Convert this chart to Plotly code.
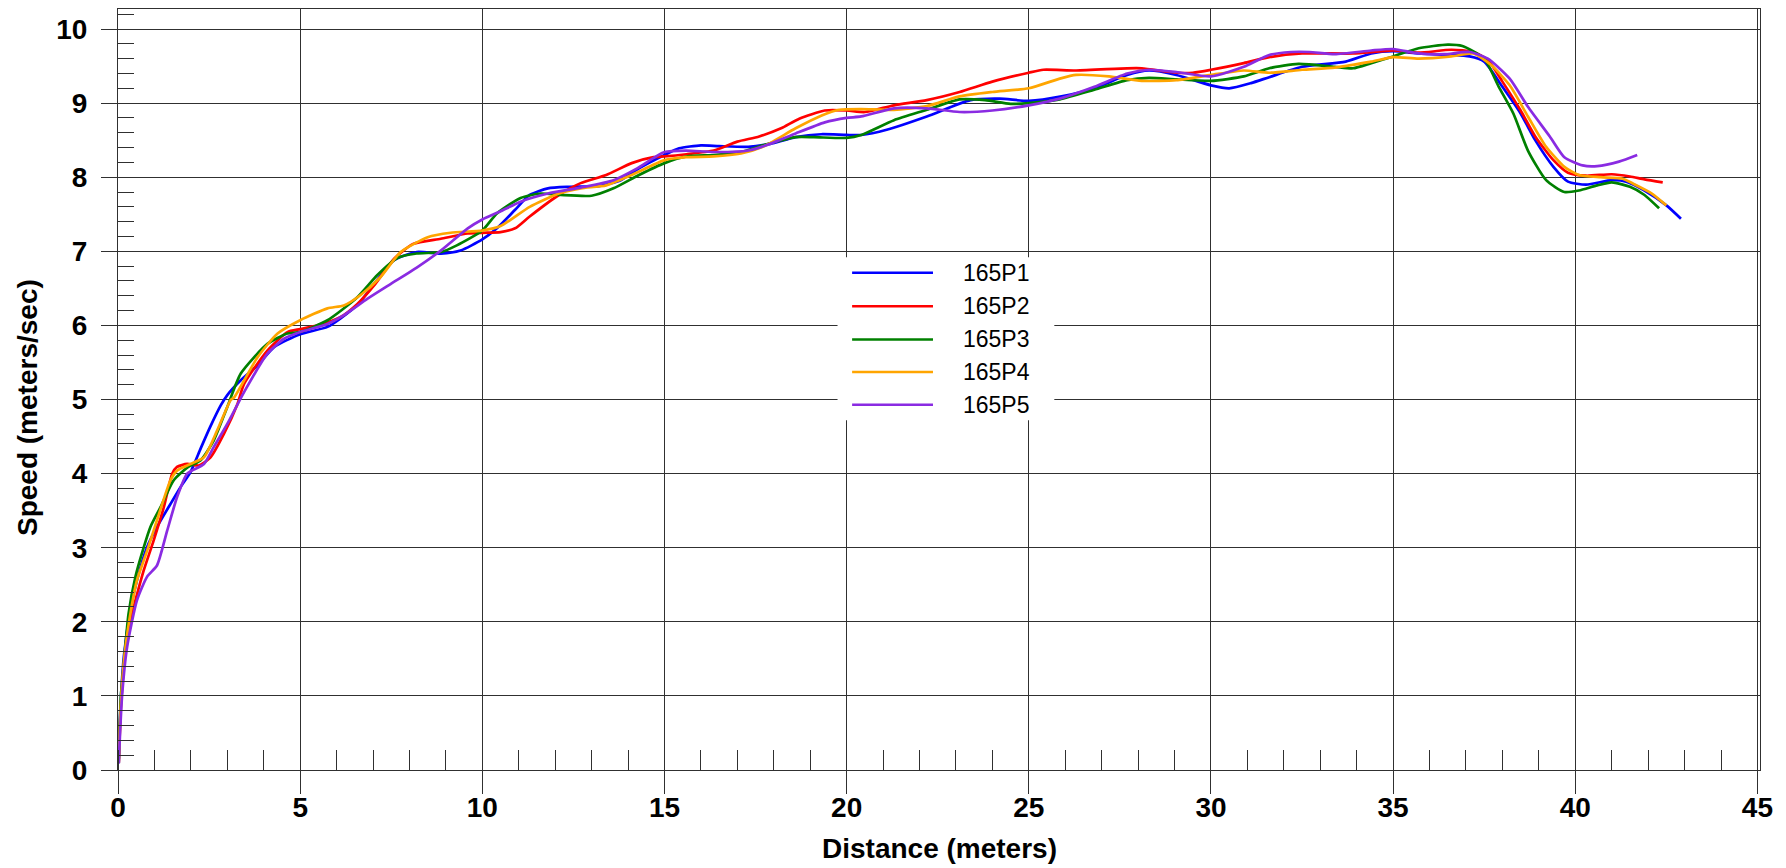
import plotly.graph_objects as go

# Speed vs. distance for five sprint trials (165P1 .. 165P5)
p1_dist = [0.02, 0.06, 0.16, 0.34, 0.52, 0.8, 1.07, 1.44, 1.72, 1.99, 2.27, 2.54, 2.82, 3.0, 3.37, 3.83, 4.29,
           5.0, 5.75, 6.1, 6.6, 7.03, 7.58, 8.2, 8.86, 9.4, 10.0, 10.4, 10.9, 11.3, 11.8, 12.4, 13.2, 13.8,
           14.3, 15.0, 15.4, 16.0, 16.5, 17.3, 17.9, 18.6, 19.3, 20.0, 20.4, 21.1, 22.2, 23.4, 24.2, 25.0,
           25.9, 26.8, 27.7, 28.3, 29.05, 30.0, 30.5, 31.1, 31.6, 32.5, 33.7, 34.4, 35.0, 35.7, 36.5, 37.1,
           37.5, 38.0, 38.5, 38.9, 39.4, 39.8, 40.3, 41.0, 41.4, 41.9, 42.5, 42.9]
p1_speed = [0.09, 0.76, 1.53, 2.16, 2.56, 3.01, 3.28, 3.59, 3.82, 4.02, 4.34, 4.64, 4.92, 5.06, 5.26, 5.46, 5.71,
            5.88, 5.98, 6.09, 6.29, 6.56, 6.88, 6.99, 6.97, 7.01, 7.16, 7.31, 7.56, 7.76, 7.85, 7.87, 7.88, 7.96,
            8.12, 8.3, 8.39, 8.43, 8.42, 8.41, 8.45, 8.54, 8.58, 8.57, 8.57, 8.64, 8.82, 9.04, 9.06, 9.03,
            9.09, 9.2, 9.38, 9.44, 9.38, 9.24, 9.2, 9.27, 9.35, 9.49, 9.56, 9.67, 9.7, 9.67, 9.65, 9.63,
            9.56, 9.22, 8.86, 8.5, 8.14, 7.94, 7.9, 7.96, 7.94, 7.82, 7.62, 7.44]

p2_dist = [0.02, 0.08, 0.18, 0.3, 0.43, 0.71, 0.98, 1.26, 1.49, 1.62, 1.9, 2.22, 2.54, 2.91, 3.28, 3.46, 4.1,
           4.65, 5.0, 5.48, 6.1, 6.57, 7.03, 7.58, 8.1, 8.86, 9.6, 10.0, 10.5, 10.9, 11.3, 12.1, 12.7, 13.4,
           14.1, 14.7, 15.0, 15.6, 16.35, 17.0, 17.6, 18.2, 18.7, 19.4, 20.0, 20.5, 21.3, 22.2, 23.1, 24.0,
           25.0, 25.4, 26.3, 27.7, 28.1, 29.05, 29.5, 30.0, 30.9, 31.6, 32.5, 33.9, 35.0, 35.7, 36.6, 37.2,
           37.6, 38.0, 38.5, 38.9, 39.4, 39.8, 40.3, 41.0, 41.5, 41.9, 42.4]
p2_speed = [0.1, 0.85, 1.5, 1.95, 2.2, 2.7, 3.1, 3.55, 4.0, 4.09, 4.13, 4.11, 4.22, 4.54, 4.94, 5.21, 5.66,
            5.91, 5.95, 6.0, 6.11, 6.29, 6.54, 6.9, 7.1, 7.17, 7.24, 7.25, 7.26, 7.31, 7.47, 7.76, 7.92, 8.03,
            8.19, 8.27, 8.28, 8.31, 8.36, 8.48, 8.55, 8.66, 8.79, 8.9, 8.9, 8.88, 8.97, 9.04, 9.15, 9.29,
            9.41, 9.45, 9.44, 9.47, 9.47, 9.41, 9.41, 9.45, 9.54, 9.62, 9.67, 9.67, 9.71, 9.68, 9.72, 9.69,
            9.58, 9.29, 8.9, 8.55, 8.23, 8.06, 8.02, 8.04, 8.01, 7.97, 7.93]

p3_dist = [0.02, 0.08, 0.16, 0.29, 0.48, 0.71, 0.89, 1.17, 1.53, 1.9, 2.27, 2.63, 3.0, 3.37, 4.1, 4.65, 5.0,
           5.75, 6.57, 7.12, 7.67, 8.2, 8.86, 9.3, 10.0, 10.4, 11.05, 11.6, 12.15, 13.0, 13.6, 14.3, 15.0,
           15.6, 16.35, 17.1, 17.7, 18.6, 19.1, 20.0, 20.4, 21.3, 22.2, 23.1, 23.8, 24.5, 25.0, 25.85, 26.8,
           27.7, 28.3, 29.05, 30.0, 30.9, 31.6, 32.4, 33.4, 33.9, 34.4, 35.0, 35.7, 36.5, 36.9, 37.5, 37.9,
           38.3, 38.7, 39.2, 39.7, 40.1, 40.6, 41.0, 41.5, 41.9, 42.3]
p3_speed = [0.15, 1.0, 1.44, 2.11, 2.61, 3.01, 3.28, 3.55, 3.91, 4.08, 4.18, 4.45, 4.9, 5.35, 5.75, 5.89, 5.91,
            6.07, 6.38, 6.68, 6.91, 6.97, 6.99, 7.08, 7.28, 7.51, 7.72, 7.78, 7.76, 7.75, 7.85, 8.03, 8.19,
            8.28, 8.3, 8.34, 8.43, 8.54, 8.54, 8.53, 8.57, 8.77, 8.91, 9.05, 9.04, 8.99, 9.0, 9.05, 9.18,
            9.31, 9.34, 9.32, 9.3, 9.36, 9.47, 9.53, 9.49, 9.47, 9.54, 9.63, 9.74, 9.79, 9.77, 9.6, 9.22,
            8.86, 8.36, 7.96, 7.8, 7.82, 7.89, 7.93, 7.87, 7.76, 7.58]

p4_dist = [0.02, 0.08, 0.18, 0.34, 0.52, 0.8, 1.07, 1.44, 1.62, 1.99, 2.36, 2.72, 3.09, 3.19, 3.83, 4.38, 5.0,
           5.75, 6.2, 6.66, 7.2, 7.76, 8.5, 9.13, 10.0, 10.5, 11.3, 12.1, 12.7, 13.4, 14.1, 15.0, 15.6, 16.35,
           17.1, 17.7, 18.6, 19.3, 19.8, 20.4, 21.3, 22.2, 23.1, 24.0, 25.0, 25.85, 26.3, 27.2, 28.1, 29.05,
           30.0, 30.9, 31.6, 32.5, 33.4, 34.4, 35.0, 35.7, 36.6, 37.2, 37.7, 38.2, 38.7, 39.2, 39.7, 40.1,
           40.7, 41.3, 41.6, 42.1, 42.5]
p4_speed = [0.1, 0.9, 1.55, 2.11, 2.56, 2.96, 3.37, 3.91, 4.04, 4.13, 4.22, 4.58, 4.99, 5.03, 5.57, 5.89, 6.07,
            6.23, 6.27, 6.41, 6.65, 6.99, 7.19, 7.25, 7.28, 7.34, 7.6, 7.78, 7.85, 7.89, 8.03, 8.23, 8.27, 8.28,
            8.32, 8.41, 8.66, 8.83, 8.91, 8.92, 8.91, 8.96, 9.09, 9.15, 9.2, 9.33, 9.38, 9.36, 9.3, 9.31,
            9.38, 9.44, 9.41, 9.45, 9.48, 9.56, 9.62, 9.6, 9.63, 9.67, 9.51, 9.24, 8.82, 8.41, 8.14, 8.03,
            8.0, 7.98, 7.91, 7.78, 7.62]

p5_dist = [0.02, 0.11, 0.25, 0.52, 0.8, 1.07, 1.35, 1.62, 1.9, 2.36, 2.63, 3.0, 3.46, 4.1, 4.56, 5.0, 5.75,
           6.2, 6.85, 7.49, 8.2, 8.86, 9.6, 10.0, 10.5, 11.05, 11.8, 12.7, 13.6, 14.25, 15.0, 15.6, 16.35,
           17.3, 17.9, 18.6, 19.4, 20.0, 20.4, 21.3, 22.2, 23.1, 24.0, 25.0, 25.85, 26.8, 27.7, 28.3, 29.05,
           30.0, 30.9, 31.6, 32.2, 32.7, 33.4, 34.4, 35.0, 35.7, 36.4, 37.1, 37.6, 38.2, 38.7, 39.3, 39.7,
           40.2, 40.6, 41.2, 41.7]
p5_speed = [0.09, 0.99, 1.66, 2.29, 2.61, 2.76, 3.23, 3.68, 4.0, 4.13, 4.36, 4.67, 5.1, 5.62, 5.82, 5.91, 6.02,
            6.14, 6.36, 6.56, 6.78, 7.01, 7.31, 7.43, 7.54, 7.67, 7.78, 7.86, 7.96, 8.12, 8.34, 8.36, 8.34,
            8.36, 8.45, 8.59, 8.74, 8.8, 8.82, 8.93, 8.93, 8.88, 8.9, 8.97, 9.06, 9.22, 9.4, 9.45, 9.42,
            9.36, 9.49, 9.65, 9.69, 9.69, 9.66, 9.71, 9.73, 9.67, 9.66, 9.69, 9.6, 9.33, 8.95, 8.55, 8.27,
            8.16, 8.15, 8.21, 8.3]

trial_names = ["165P1", "165P2", "165P3", "165P4", "165P5"]
trial_colors = ["#0000FF", "#FF0000", "#008000", "#FFA500", "#8A2BE2"]
trial_dist = [p1_dist, p2_dist, p3_dist, p4_dist, p5_dist]
trial_speed = [p1_speed, p2_speed, p3_speed, p4_speed, p5_speed]

FONT = "Liberation Sans, Arial, sans-serif"
GRID = "#303030"

fig = go.Figure()
for name, color, xs, ys in zip(trial_names, trial_colors, trial_dist, trial_speed):
    fig.add_trace(go.Scatter(
        x=xs, y=ys, name=name, mode="lines",
        line=dict(color=color, width=2.7, shape="spline", smoothing=0.6),
        showlegend=False,
    ))

# Hand-built key: white panel with long line samples and labels
legend_box = dict(x0=19.75, x1=25.7, y0=4.72, y1=6.92)
legend_rows = [6.71, 6.26, 5.81, 5.37, 4.93]
fig.add_shape(type="rect", xref="x", yref="y", layer="between",
              line=dict(width=0), fillcolor="white", **legend_box)
for name, color, yrow in zip(trial_names, trial_colors, legend_rows):
    fig.add_shape(type="line", xref="x", yref="y", x0=20.15, x1=22.37, y0=yrow, y1=yrow,
                  line=dict(color=color, width=2.5), layer="above")
    fig.add_annotation(x=23.15, y=yrow, xref="x", yref="y", text=name, showarrow=False,
                       xanchor="left", yanchor="middle", font=dict(family=FONT, size=23, color="black"))

# Axis titles
fig.add_annotation(text="<b>Distance (meters)</b>", xref="paper", yref="paper", x=0.5, y=-0.1025,
                   xanchor="center", yanchor="middle", showarrow=False,
                   font=dict(family=FONT, size=28, color="black"))
fig.add_annotation(text="<b>Speed (meters/sec)</b>", xref="paper", yref="paper", x=-0.0548, y=0.4757,
                   xanchor="center", yanchor="middle", textangle=-90, showarrow=False,
                   font=dict(family=FONT, size=28, color="black"))

fig.update_xaxes(
    range=[0, 45.07], dtick=5, tick0=0,
    showgrid=True, gridcolor=GRID, gridwidth=1, zeroline=False,
    showline=True, linecolor=GRID, linewidth=1, mirror=True,
    ticks="outside", ticklen=23, tickcolor=GRID, tickwidth=1,
    tickfont=dict(family=FONT, size=28, color="black", weight="bold"),
    ticklabelstandoff=-11,
    minor=dict(dtick=1, tick0=0, ticks="inside", ticklen=20, tickcolor=GRID, tickwidth=1, showgrid=False),
)
fig.update_yaxes(
    range=[0, 10.27], dtick=1, tick0=0,
    showgrid=True, gridcolor=GRID, gridwidth=1, zeroline=False,
    showline=True, linecolor=GRID, linewidth=1, mirror=True,
    ticks="outside", ticklen=16, tickcolor=GRID, tickwidth=1,
    tickfont=dict(family=FONT, size=28, color="black", weight="bold"),
    ticklabelstandoff=8,
    minor=dict(dtick=0.2, tick0=0, ticks="inside", ticklen=16, tickcolor=GRID, tickwidth=1, showgrid=False),
)

fig.update_layout(
    width=1786, height=868,
    margin=dict(l=118, r=26, t=9, b=98, autoexpand=False),
    paper_bgcolor="white", plot_bgcolor="white",
    font=dict(family=FONT, color="black"),
)

fig.write_html("out.html")
